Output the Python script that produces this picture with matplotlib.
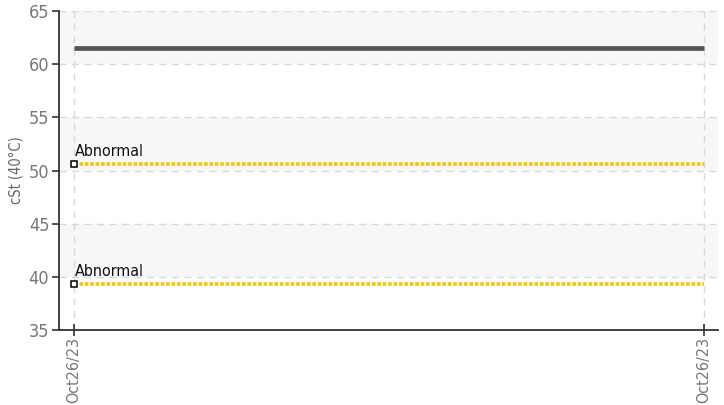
import matplotlib
matplotlib.use("Agg")
import matplotlib.pyplot as plt

plt.rcParams['font.family'] = ['DejaVu Sans']
plt.rcParams['font.stretch'] = 'condensed'

# data
x_pos = [0, 1]
x_labels = ['Oct26/23', 'Oct26/23']
value_line = [61.5, 61.5]
limit_upper = [50.6, 50.6]
limit_lower = [39.3, 39.3]
limit_text = 'Abnormal'
y_ticks = [35, 40, 45, 50, 55, 60, 65]

fig = plt.figure(figsize=(7.24, 4.05), dpi=100)
ax = fig.add_axes([59 / 724, 1 - 330 / 405, (718 - 59) / 724, (330 - 11) / 405])

# alternating bands
for i, lo in enumerate(y_ticks[:-1]):
    if i % 2 == 1:
        ax.axhspan(lo, lo + 5, color='#f7f7f7', zorder=0, lw=0)

ax.plot(x_pos, value_line, color='#555555', lw=3.4, solid_capstyle='butt', zorder=3)

for lim in (limit_upper, limit_lower):
    ax.plot(x_pos, lim, color='#f7c600', lw=2.6, ls=(0, (1, 0.5)), zorder=3)
    ax.plot(x_pos[0], lim[0], marker='s', ms=5, mfc='white', mec='black', mew=1.1, zorder=4)
    ax.text(x_pos[0] + 0.001, lim[0] + 0.45, limit_text, fontsize=11.5, color='#111111',
            ha='left', va='bottom', zorder=5)

ax.set_ylim(35, 65)
ax.set_xlim(-15 / 630, 1 + 14 / 630)
ax.set_yticks(y_ticks)
ax.set_xticks(x_pos)
ax.set_xticklabels(x_labels, rotation=90)

ax.grid(True, color='#d9d9d9', ls=(0, (5, 4)), lw=1, zorder=1)
ax.set_axisbelow(True)

for s in ('top', 'right'):
    ax.spines[s].set_visible(False)
for s in ('left', 'bottom'):
    ax.spines[s].set_color('#333333')
    ax.spines[s].set_linewidth(1.3)

ax.tick_params(axis='y', direction='out', length=5, width=1.2, color='#333333',
               labelcolor='#777777', labelsize=13, pad=2)
ax.tick_params(axis='x', direction='inout', length=8, width=1.2, color='#333333',
               labelcolor='#777777', labelsize=11.5, pad=1)

ax.set_ylabel('cSt (40°C)', color='#666666', fontsize=10.5, labelpad=4)

fig.savefig('out.png', dpi=100)
